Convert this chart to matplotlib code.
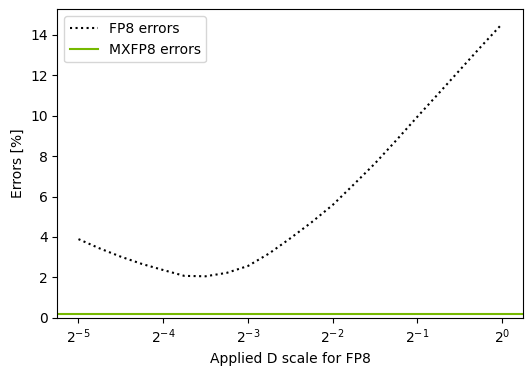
import numpy as np
import matplotlib
matplotlib.use("Agg")
import matplotlib.pyplot as plt

# Data
scale_exponents = [-5, -4.75, -4.5, -4.25, -4, -3.75, -3.5, -3.25, -3, -2.75,
                   -2.5, -2.25, -2, -1.75, -1.5, -1.25, -1, -0.75, -0.5, -0.25, 0]
fp8_errors = [3.89, 3.43, 3.02, 2.66, 2.36, 2.07, 2.05, 2.22, 2.56, 3.18,
              3.93, 4.72, 5.58, 6.60, 7.64, 8.78, 9.95, 11.10, 12.26, 13.42, 14.55]
mxfp8_error = 0.18

scales = [2.0 ** e for e in scale_exponents]

fig = plt.figure(figsize=(5.31, 3.75), dpi=100)
ax = fig.add_axes([0.1079, 0.1528, 0.8776, 0.8224])

ax.plot(scales, fp8_errors, linestyle=":", color="black", label="FP8 errors")
ax.axhline(mxfp8_error, color="#76b900", label="MXFP8 errors")
ax.set_xscale("log", base=2)
ax.set_ylim(bottom=0)
ax.set_xlabel("Applied D scale for FP8")
ax.set_ylabel("Errors [%]")
ax.legend(loc="upper left")

fig.savefig("out.png", dpi=100)
